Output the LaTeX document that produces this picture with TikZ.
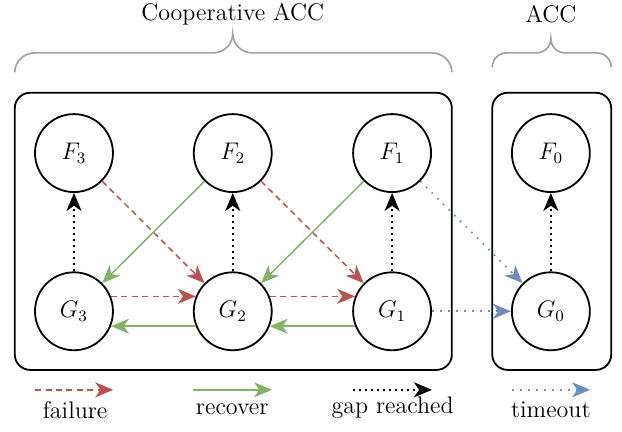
\documentclass[tikz,border=0pt,12pt]{standalone}
\usepackage{amsmath}
\usepackage{amssymb}
\usepackage{tikz}
\usetikzlibrary{arrows.meta}

\definecolor{failred}{RGB}{184,84,80}
\definecolor{recgreen}{RGB}{130,179,102}
\definecolor{toblue}{RGB}{108,142,191}
\definecolor{bracegray}{RGB}{160,160,160}

\tikzset{
  state/.style={circle, draw, line width=0.9pt, minimum size=1.37cm, inner sep=0pt},
  tip/.style={-{Stealth[length=9pt,width=7.5pt,inset=2.6pt]}},
  failure/.style={tip, draw=failred, line width=0.75pt, dash pattern=on 3pt off 2.2pt},
  recover/.style={tip, draw=recgreen, line width=0.75pt},
  gapreached/.style={tip, draw=black, line width=1pt, dotted},
  timeout/.style={tip, draw=toblue, line width=0.9pt, dash pattern=on 0.8pt off 3.2pt},
  groupbox/.style={draw, line width=0.9pt, rounded corners=0.27cm},
  braceline/.style={draw=bracegray, line width=0.8pt},
}

\begin{document}
\begin{tikzpicture}
\useasboundingbox (0,0) rectangle (10.93,-7.59);

% groups
\draw[groupbox] (0.26,-1.63) rectangle (7.94,-6.50);
\draw[groupbox] (8.65,-1.63) rectangle (10.74,-6.50);

% braces
\coordinate (coop-l) at (0.26,-1.27);
\coordinate (acc-l) at (8.65,-1.18);
\draw[braceline] (coop-l)
  arc[start angle=180, end angle=90, x radius=0.35, y radius=0.34]
  -- (3.74,-0.93)
  arc[start angle=270, end angle=360, x radius=0.35, y radius=0.34]
  arc[start angle=180, end angle=270, x radius=0.35, y radius=0.34]
  -- (7.59,-0.93)
  arc[start angle=90, end angle=0, x radius=0.35, y radius=0.34];
\draw[braceline] (acc-l)
  arc[start angle=180, end angle=90, x radius=0.25, y radius=0.25]
  -- (9.43,-0.93)
  arc[start angle=270, end angle=360, x radius=0.25, y radius=0.25]
  arc[start angle=180, end angle=270, x radius=0.25, y radius=0.25]
  -- (10.49,-0.93)
  arc[start angle=90, end angle=0, x radius=0.25, y radius=0.25];
\node (coop-label) at (4.09,-0.25) {Cooperative ACC};
\node (acc-label) at (9.68,-0.25) {ACC};

% states
\node[state] (F3) at (1.30,-2.69) {$F_3$};
\node[state] (F2) at (4.09,-2.69) {$F_2$};
\node[state] (F1) at (6.89,-2.69) {$F_1$};
\node[state] (F0) at (9.68,-2.69) {$F_0$};
\node[state] (G3) at (1.30,-5.47) {$G_3$};
\node[state] (G2) at (4.09,-5.47) {$G_2$};
\node[state] (G1) at (6.89,-5.47) {$G_1$};
\node[state] (G0) at (9.68,-5.47) {$G_0$};

% transitions
\draw[gapreached] (G3) -- (F3);
\draw[gapreached] (G2) -- (F2);
\draw[gapreached] (G1) -- (F1);
\draw[gapreached] (G0) -- (F0);

\draw[failure] (F3) -- (G2);
\draw[failure] (F2) -- (G1);
\draw[failure] (G3.22) -- (G2.158);
\draw[failure] (G2.22) -- (G1.158);

\draw[recover] (F2) -- (G3);
\draw[recover] (F1) -- (G2);
\draw[recover] (G2.202) -- (G3.338);
\draw[recover] (G1.202) -- (G2.338);

\draw[timeout] (F1) -- (G0);
\draw[timeout] (G1) -- (G0);

% legend
\coordinate (fail-s) at (0.62,-6.85);
\coordinate (fail-e) at (1.99,-6.85);
\coordinate (rec-s) at (3.39,-6.85);
\coordinate (rec-e) at (4.78,-6.85);
\coordinate (gap-s) at (6.20,-6.85);
\coordinate (gap-e) at (7.59,-6.85);
\coordinate (to-s) at (9.00,-6.85);
\coordinate (to-e) at (10.37,-6.85);
\draw[failure] (fail-s) -- (fail-e);
\draw[recover] (rec-s) -- (rec-e);
\draw[gapreached] (gap-s) -- (gap-e);
\draw[timeout] (to-s) -- (to-e);
\node (fail-label) at (1.32,-7.20) {failure};
\node (rec-label) at (4.08,-7.20) {recover};
\node (gap-label) at (6.90,-7.17) {gap reached};
\node (to-label) at (9.68,-7.20) {timeout};

\end{tikzpicture}
\end{document}
